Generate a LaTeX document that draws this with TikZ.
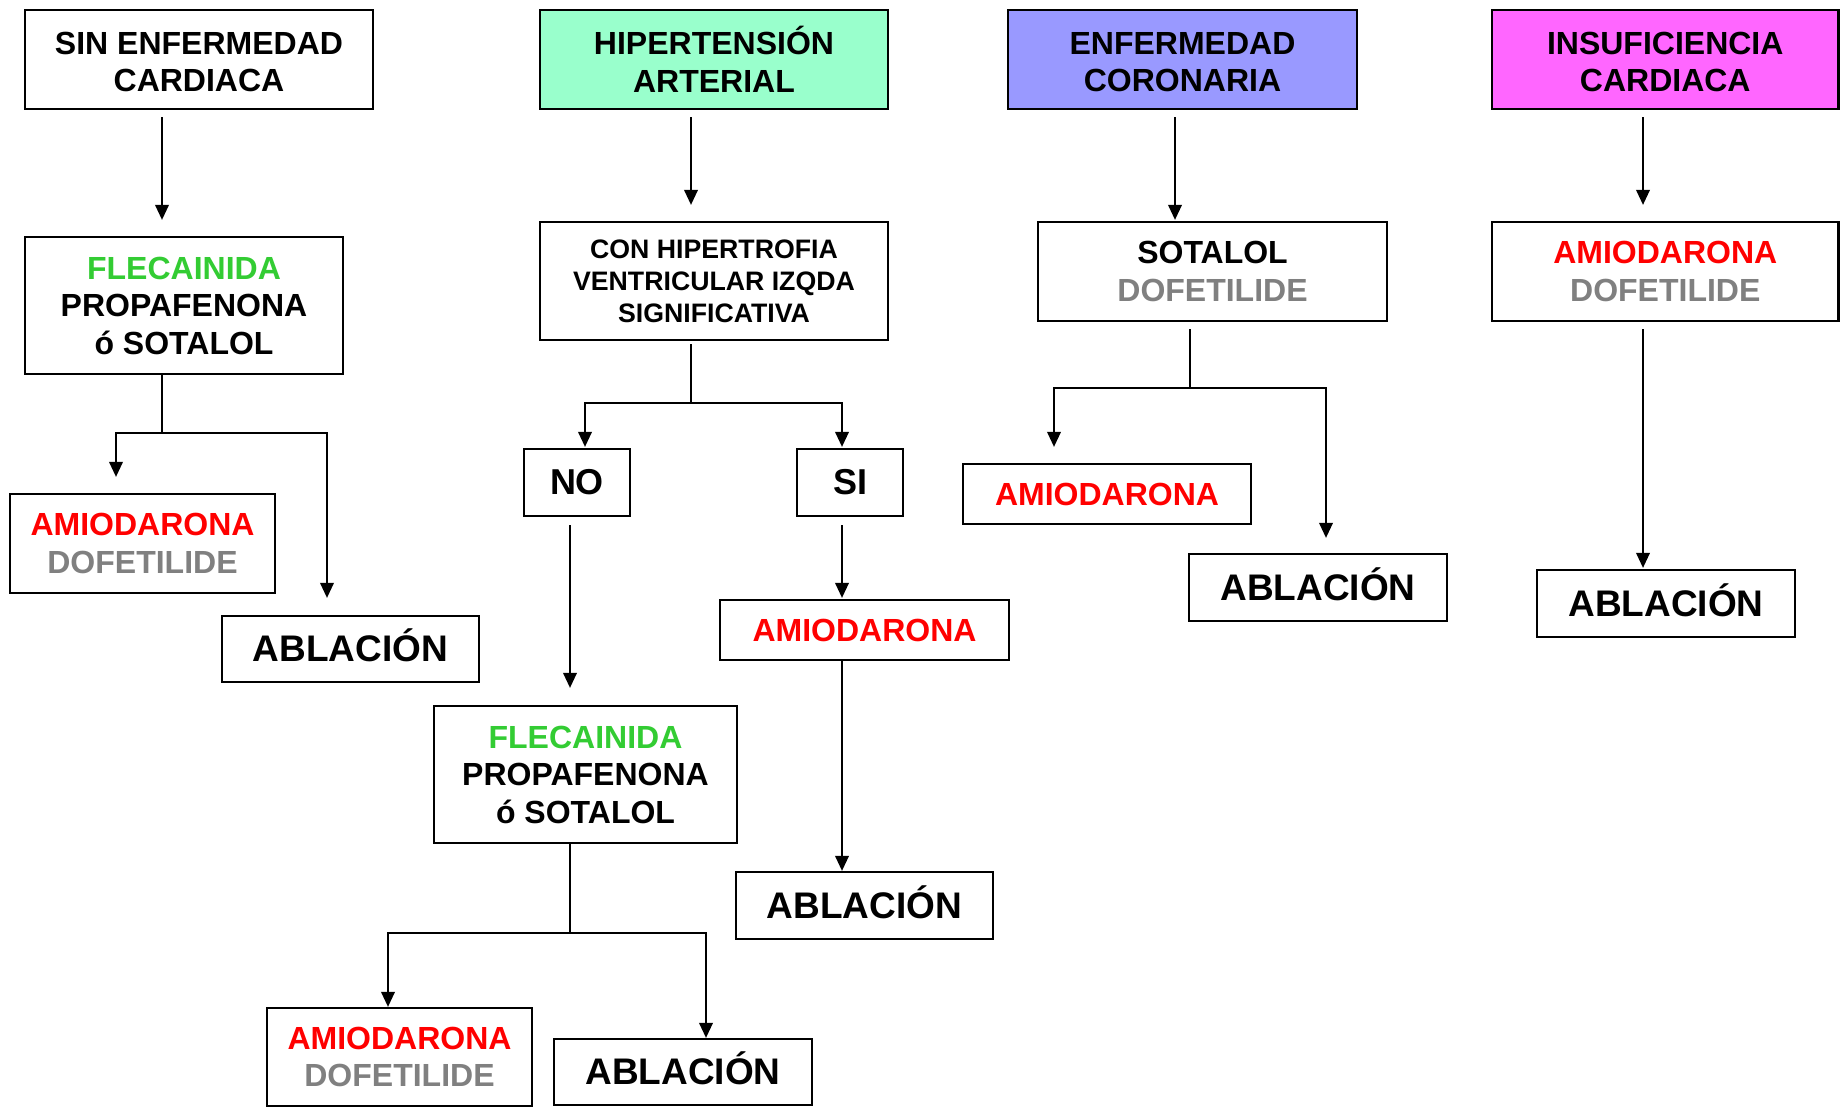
\documentclass[tikz,border=0pt]{standalone}
\usepackage{fontspec}
\setmainfont{Liberation Sans}
\usetikzlibrary{arrows.meta}
\definecolor{grn}{HTML}{33CC33}
\definecolor{gry}{HTML}{808080}
\definecolor{rojo}{HTML}{FF0000}
\definecolor{hta}{HTML}{99FFCC}
\definecolor{coro}{HTML}{9999FF}
\definecolor{insuf}{HTML}{FF66FF}
\tikzset{
  box/.style={draw=black, line width=2.2pt, fill=white, inner sep=0pt, align=center,
    font=\fontsize{32}{37.5}\selectfont\bfseries},
  small/.style={font=\fontsize{26.7}{32}\selectfont\bfseries},
  big/.style={font=\fontsize{37}{42}\selectfont\bfseries},
  yesno/.style={font=\fontsize{36}{42}\selectfont\bfseries},
  ln/.style={line width=2pt, draw=black},
  arr/.style={ln, -{Triangle[length=15pt,width=13.5pt]}},
}
% a boxed step: name, x1, y1, x2, y2, extra style, text
\newcommand{\bx}[7]{%
  \node[box, #6, minimum width={(#4-#2)*1pt}, minimum height={(#5-#3)*1pt}]
    (#1) at ({(#2+#4)/2},{(#3+#5)/2}) {#7};}
% strut that lowers a two-line heading slightly
\newcommand{\hdstrut}{\rule{0pt}{27.6pt}}
\newcommand{\ablacion}{ABLACI\smash{Ó}N}
\begin{document}
\begin{tikzpicture}[x=1pt, y=-1pt]
\useasboundingbox (0,0) rectangle (1840,1107);

% header row
\bx{A}{25}{10}{373}{109}{}{\hdstrut SIN ENFERMEDAD\\CARDIACA}
\bx{E}{540}{10}{888}{109}{fill=hta}{\hdstrut HIPERTENSI\smash{Ó}N\\ARTERIAL}
\bx{L}{1008}{10}{1357}{109}{fill=coro}{\hdstrut ENFERMEDAD\\CORONARIA}
\bx{P}{1492}{10}{1838.5}{109}{fill=insuf}{\hdstrut INSUFICIENCIA\\CARDIACA}

% column 1
\bx{B}{25}{237}{343}{374}{}{\textcolor{grn}{FLECAINIDA}\\PROPAFENONA\\ó SOTALOL}
\bx{C}{10}{494}{275}{593}{}{\textcolor{rojo}{AMIODARONA}\\\textcolor{gry}{DOFETILIDE}}
\bx{D}{222}{616}{479}{682}{big}{\ablacion}

% column 2
\bx{F}{540}{222}{888}{340}{small}{CON HIPERTROFIA\\VENTRICULAR IZQDA\\SIGNIFICATIVA}
\bx{NO}{524}{449}{630}{516}{yesno}{NO}
\bx{SI}{797}{449}{903}{516}{yesno}{SI}
\bx{G}{434}{706}{737}{843}{}{\textcolor{grn}{FLECAINIDA}\\PROPAFENONA\\ó SOTALOL}
\bx{H}{720}{600}{1009}{660}{}{\textcolor{rojo}{AMIODARONA}}
\bx{I}{736}{872}{993}{939}{big}{\ablacion}
\bx{J}{267}{1008}{532}{1106}{}{\textcolor{rojo}{AMIODARONA}\\\textcolor{gry}{DOFETILIDE}}
\bx{K}{554}{1039}{812}{1105}{big}{\ablacion}

% column 3
\bx{M}{1038}{222}{1387}{321}{}{SOTALOL\\\textcolor{gry}{DOFETILIDE}}
\bx{N}{963}{464}{1251}{524}{}{\textcolor{rojo}{AMIODARONA}}
\bx{O}{1189}{554}{1447}{621}{big}{\ablacion}

% column 4
\bx{Q}{1492}{222}{1838.5}{321}{}{\textcolor{rojo}{AMIODARONA}\\\textcolor{gry}{DOFETILIDE}}
\bx{R}{1537}{570}{1795}{637}{big}{\ablacion}

% trunk and branch positions
\coordinate (xA) at (162,0);
\coordinate (bA) at (162,433);
\coordinate (cL) at (116,0);
\coordinate (cR) at (327,0);
\coordinate (xE) at (691,0);
\coordinate (bE) at (691,403);
\coordinate (nL) at (585,0);
\coordinate (sR) at (842,0);
\coordinate (xG) at (570,0);
\coordinate (bG) at (570,933);
\coordinate (jL) at (388,0);
\coordinate (kR) at (706,0);
\coordinate (xL) at (1175,0);
\coordinate (xM) at (1190,0);
\coordinate (bM) at (1190,388);
\coordinate (mL) at (1054,0);
\coordinate (mR) at (1326,0);
\coordinate (xP) at (1643,0);

% column 1 connectors
\draw[arr, shorten <=7pt, shorten >=16pt] (A.south -| xA) -- (B.north -| xA);
\draw[ln] (B.south -| xA) -- (bA);
\draw[arr, shorten >=16pt] (bA) -| (C.north -| cL);
\draw[arr, shorten >=17pt] (bA) -| (D.north -| cR);

% column 2 connectors
\draw[arr, shorten <=7pt, shorten >=16pt] (E.south -| xE) -- (F.north -| xE);
\draw[ln, shorten <=3pt] (F.south -| xE) -- (bE);
\draw[arr, shorten >=1pt] (bE) -| (NO.north -| nL);
\draw[arr, shorten >=1pt] (bE) -| (SI.north -| sR);
\draw[arr, shorten <=8pt, shorten >=17pt] (NO.south -| xG) -- (G.north -| xG);
\draw[arr, shorten <=8pt, shorten >=1pt] (SI.south -| sR) -- (H.north -| sR);
\draw[arr] (H.south -| sR) -- (I.north -| sR);
\draw[ln] (G.south -| xG) -- (bG);
\draw[arr] (bG) -| (J.north -| jL);
\draw[arr] (bG) -| (K.north -| kR);

% column 3 connectors
\draw[arr, shorten <=7pt, shorten >=1pt] (L.south -| xL) -- (M.north -| xL);
\draw[ln, shorten <=7pt] (M.south -| xM) -- (bM);
\draw[arr, shorten >=16pt] (bM) -| (N.north -| mL);
\draw[arr, shorten >=15pt] (bM) -| (O.north -| mR);

% column 4 connectors
\draw[arr, shorten <=7pt, shorten >=16pt] (P.south -| xP) -- (Q.north -| xP);
\draw[arr, shorten <=7pt, shorten >=1pt] (Q.south -| xP) -- (R.north -| xP);
\end{tikzpicture}
\end{document}
